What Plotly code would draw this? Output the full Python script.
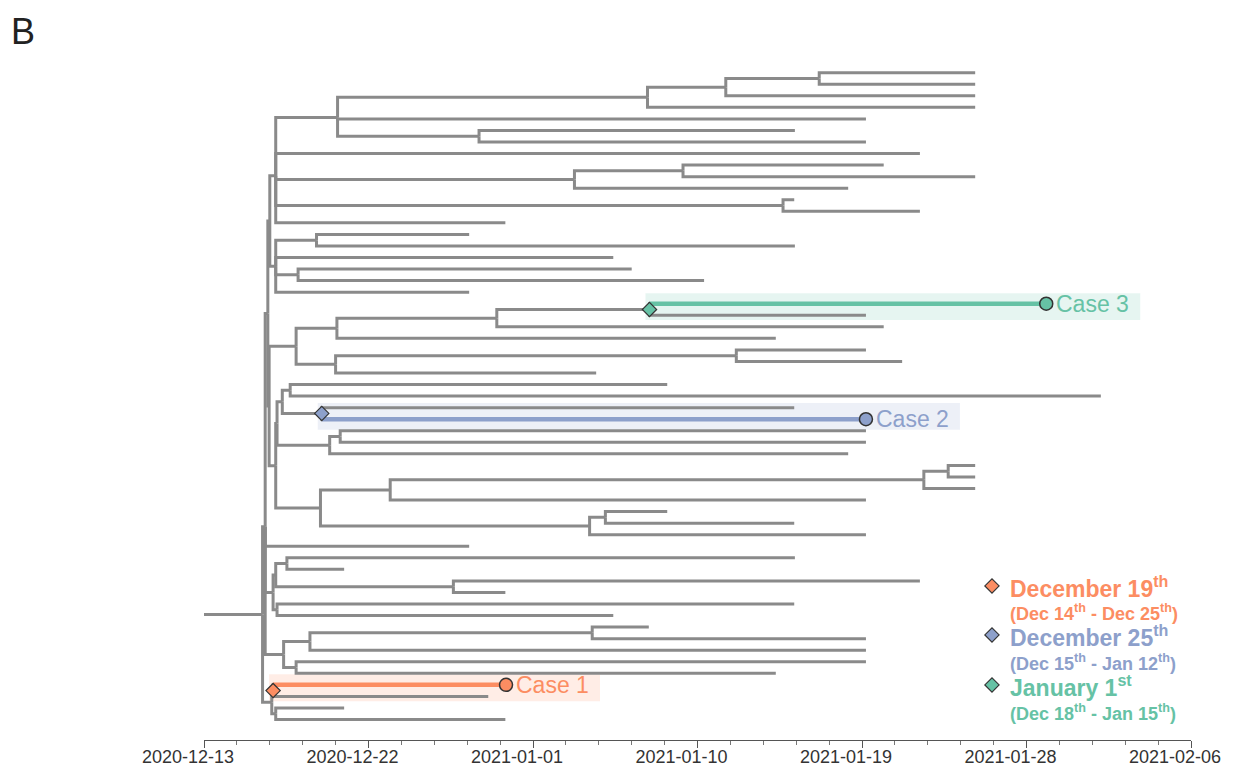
import plotly.graph_objects as go

# ---------------- data ----------------
TICK_VALS = [2020.95, 2020.975, 2021.0, 2021.025, 2021.05, 2021.075, 2021.1]
TICK_TEXT = ["2020-12-13", "2020-12-22", "2021-01-01", "2021-01-10",
             "2021-01-19", "2021-01-28", "2021-02-06"]

ROOT_START = 2020.95

# sampling dates (decimal years) of the tips, top row to bottom row
tip_dates = [
    2021.0672, 2021.0672, 2021.0672, 2021.0672, 2021.0506, 2021.0398, 2021.0506,
    2021.0588, 2021.0533, 2021.0672, 2021.0479, 2021.0397, 2021.0588, 2020.9958,
    2020.9903, 2021.0398, 2021.0122, 2021.0150, 2021.0260, 2020.9903,
    2021.0780, 2021.0506, 2021.0533, 2021.0369, 2021.0506, 2021.0561, 2021.0096,
    2021.0204, 2021.0863, 2021.0397, 2021.0506, 2021.0506, 2021.0506, 2021.0479,
    2021.0672, 2021.0672, 2021.0672, 2021.0506, 2021.0204, 2021.0397, 2021.0506,
    2020.9903, 2021.0398, 2020.9713, 2021.0588, 2020.9958, 2021.0397, 2021.0122,
    2021.0176, 2021.0506, 2021.0506, 2021.0506, 2021.0369, 2020.9959, 2020.9932,
    2020.9713, 2020.9958,
]

# internal nodes: name, date (decimal year), children (int = tip row, str = node)
node_names = [
    "n819", "n726", "n648", "n479", "n338", "n683", "n575", "n783", "n276a",
    "n317", "n298", "n276b", "n270",
    "c3", "n497", "n337", "n736", "n336", "n296", "n290", "c2", "n282", "n340",
    "n330", "n277m", "n948", "n924", "n390", "n606", "n589", "n321", "n276m",
    "v269", "n287", "n453", "n276d", "n277l", "l273", "n592", "n310", "n296b",
    "n283", "u268", "x265", "c1", "n276c", "b272", "root",
]
node_dates = [
    2021.0435, 2021.0293, 2021.0174, 2020.9918, 2020.9703, 2021.0228, 2021.0063,
    2021.0380, 2020.9609,
    2020.9671, 2020.9643, 2020.9609, 2020.9600,
    2021.0177, 2020.9945, 2020.9702, 2021.0309, 2020.9700, 2020.9640, 2020.9631,
    2020.9679, 2020.9619, 2020.9707,
    2020.9691, 2020.9611, 2021.0631, 2021.0594, 2020.9783, 2021.0110, 2021.0086,
    2020.9677, 2020.9609,
    2020.9599, 2020.9626, 2020.9879, 2020.9609, 2020.9611, 2020.9605, 2021.0090,
    2020.9661, 2020.9640,
    2020.9621, 2020.9597, 2020.9593, 2020.9605, 2020.9609, 2020.9603, 2020.9589,
]
node_children = [
    [0, 1], ["n819", 2], ["n726", 3], [5, 6], ["n648", 4, "n479"], [8, 9],
    ["n683", 10], [11, 12], ["n338", 7, "n575", "n783", 13],
    [14, 15], [17, 18], ["n317", 16, "n298", 19], ["n276a", "n276b"],
    [20, 21], ["c3", 22], ["n497", 23], [24, 25], ["n736", 26], ["n337", "n336"],
    [27, 28], [29, 30], ["n290", "c2"], [31, 32],
    ["n340", 33], ["n282", "n330"], [34, 35], ["n948", 36], ["n924", 37],
    [38, 39], ["n606", 40], ["n390", "n589"], ["n277m", "n321"],
    ["n296", "n276m"], [42, 43], [44, 45], ["n287", "n453"], [46, 47],
    ["n276d", "n277l"], [48, 49], ["n592", 50], [51, 52],
    ["n310", "n296b"], ["n270", "v269"], ["u268", 41, "l273", "n283"], [53, 54], [55, 56],
    ["c1", "n276c"], ["x265", "b272"],
]

case_labels = ["Case 1", "Case 2", "Case 3"]
case_tips = [53, 30, 20]
case_nodes = ["c1", "c2", "c3"]
case_colors = ["#fc8d62", "#8da0cb", "#66c2a5"]
case_bands = ["rgba(252,141,98,0.16)", "rgba(141,160,203,0.16)", "rgba(102,194,165,0.16)"]

legend_titles = ["December 19<sup>th</sup>", "December 25<sup>th</sup>", "January 1<sup>st</sup>"]
legend_ranges = ["(Dec 14<sup>th</sup> - Dec 25<sup>th</sup>)",
                 "(Dec 15<sup>th</sup> - Jan 12<sup>th</sup>)",
                 "(Dec 18<sup>th</sup> - Jan 15<sup>th</sup>)"]

# ---------------- layout constants ----------------
PAGE_OFF = 8                      # default body margin of the html page
W, H = 1240 - 2 * PAGE_OFF, 775 - 2 * PAGE_OFF
ML, MT = 204 - PAGE_OFF, 50 - PAGE_OFF
PLOT_W, PLOT_H = 987, 690
MR = W - ML - PLOT_W
MB = H - MT - PLOT_H
XR = [2020.95, 2021.1]
YR = [57.775, -1.965]
PX_PER_X = PLOT_W / (XR[1] - XR[0])
FONT = "Liberation Sans, Arial, sans-serif"
GRAY = "#8a8a8a"


def paper_x(px):
    return (px - PAGE_OFF - ML) / PLOT_W


def paper_y(py):
    return (MT + PLOT_H - (py - PAGE_OFF)) / PLOT_H


# ---------------- tree layout ----------------
node_x = dict(zip(node_names, node_dates))
children = dict(zip(node_names, node_children))
node_y = {}


def get_y(c):
    if isinstance(c, int):
        return float(c)
    if c not in node_y:
        node_y[c] = sum(get_y(k) for k in children[c]) / len(children[c])
    return node_y[c]


def get_x(c):
    return tip_dates[c] if isinstance(c, int) else node_x[c]


seg_x, seg_y = [], []
for name in node_names:
    nx, ny = node_x[name], get_y(name)
    for c in children[name]:
        cx, cy = get_x(c), get_y(c)
        seg_x += [nx, nx, cx, None]
        seg_y += [ny, cy, cy, None]
seg_x += [ROOT_START, node_x["root"], None]
seg_y += [get_y("root"), get_y("root"), None]

fig = go.Figure()
fig.add_trace(go.Scatter(x=seg_x, y=seg_y, mode="lines",
                         line=dict(color=GRAY, width=3), hoverinfo="skip",
                         showlegend=False, cliponaxis=False))

shapes = []
annotations = []
for lab, t, n, col, band in zip(case_labels, case_tips, case_nodes, case_colors, case_bands):
    tx, ty = tip_dates[t], get_y(t)
    nx, ny = node_x[n], get_y(n)
    mid = (ty + ny) / 2
    shapes.append(dict(type="rect", layer="below", xref="x", yref="y",
                       x0=nx - 4 / PX_PER_X, x1=tx + 94 / PX_PER_X,
                       y0=mid - 1.16, y1=mid + 1.16,
                       fillcolor=band, line=dict(width=0)))
    fig.add_trace(go.Scatter(x=[nx, tx], y=[ty, ty], mode="lines",
                             line=dict(color=col, width=4.5), hoverinfo="skip",
                             showlegend=False, cliponaxis=False))
    fig.add_trace(go.Scatter(x=[nx], y=[ny], mode="markers",
                             marker=dict(symbol="diamond", size=11, color=col,
                                         line=dict(color="#333333", width=1.2)),
                             hoverinfo="skip", showlegend=False, cliponaxis=False))
    fig.add_trace(go.Scatter(x=[tx], y=[ty], mode="markers",
                             marker=dict(symbol="circle", size=13, color=col,
                                         line=dict(color="#333333", width=1.5)),
                             hoverinfo="skip", showlegend=False, cliponaxis=False))
    annotations.append(dict(x=tx, y=ty, xref="x", yref="y", text=lab,
                            showarrow=False, xanchor="left", yanchor="middle",
                            xshift=8, font=dict(family=FONT, size=23, color=col)))

# legend (right bottom)
LEG_DIAMOND_PX = 992
LEG_TEXT_PX = 1008
LEG_TITLE_PY = [587, 636, 686]
LEG_RANGE_PY = [612, 662, 712]
fig.add_trace(go.Scatter(x=[paper_x(LEG_DIAMOND_PX)] * 3,
                         y=[paper_y(p + 1) + 0.003 for p in LEG_TITLE_PY],
                         xaxis="x2", yaxis="y2", mode="markers",
                         marker=dict(symbol="diamond", size=11, color=case_colors,
                                     line=dict(color="#333333", width=1.2)),
                         hoverinfo="skip", showlegend=False, cliponaxis=False))
for tt, rr, col, py1, py2 in zip(legend_titles, legend_ranges, case_colors, LEG_TITLE_PY, LEG_RANGE_PY):
    annotations.append(dict(x=paper_x(LEG_TEXT_PX), y=paper_y(py1), xref="paper", yref="paper",
                            text="<b>" + tt + "</b>", showarrow=False, xanchor="left",
                            yanchor="middle", font=dict(family=FONT, size=23, color=col)))
    annotations.append(dict(x=paper_x(LEG_TEXT_PX), y=paper_y(py2), xref="paper", yref="paper",
                            text="<b>" + rr + "</b>", showarrow=False, xanchor="left",
                            yanchor="middle", font=dict(family=FONT, size=18, color=col)))

annotations.append(dict(x=paper_x(9), y=paper_y(31), xref="paper", yref="paper", text="B",
                        showarrow=False, xanchor="left", yanchor="middle",
                        font=dict(family=FONT, size=36, color="#222222")))

fig.update_layout(
    width=W, height=H,
    margin=dict(l=ML, r=MR, t=MT, b=MB, pad=0, autoexpand=False),
    paper_bgcolor="white", plot_bgcolor="white",
    showlegend=False,
    shapes=shapes, annotations=annotations,
    xaxis=dict(range=XR, tickmode="array", tickvals=TICK_VALS, ticktext=TICK_TEXT,
               automargin=False,
               showgrid=False, zeroline=False, showline=True, linecolor="#555555",
               linewidth=1, ticks="outside", ticklen=7, tickwidth=1, tickcolor="#555555",
               tickfont=dict(family=FONT, size=18, color="#333333"),
               ticklabelshift=-16, ticklabelstandoff=-7,
               minor=dict(ticks="outside", ticklen=4, tickwidth=1, tickcolor="#777777",
                          tick0=2020.95, dtick=0.005, showgrid=False)),
    yaxis=dict(range=YR, visible=False, showgrid=False, zeroline=False, automargin=False),
    xaxis2=dict(range=[0, 1], overlaying="x", visible=False, automargin=False),
    yaxis2=dict(range=[0, 1], overlaying="y", visible=False, automargin=False),
)

fig.write_html("out.html")
